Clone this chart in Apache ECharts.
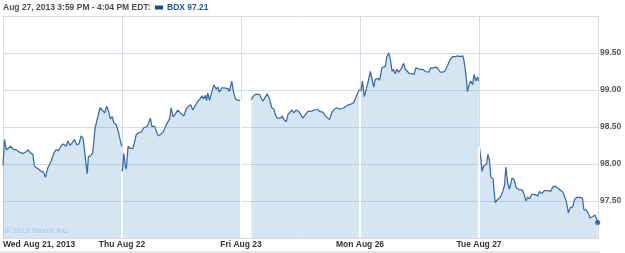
<!DOCTYPE html>
<html>
<head>
<meta charset="utf-8">
<script src="https://cdn.jsdelivr.net/npm/echarts@6/dist/echarts.min.js"></script>
<style>html,body{margin:0;padding:0;background:#fff;}#c{width:625px;height:253px;}</style>
</head>
<body>
<div id="c"></div>
<script>
// Trading-day labels (each day = 390 trading minutes, 9:30-16:00)
const dayLabels = ['Wed Aug 21, 2013', 'Thu Aug 22', 'Fri Aug 23', 'Mon Aug 26', 'Tue Aug 27'];
const headerText = 'Aug 27, 2013 3:59 PM - 4:04 PM EDT:';
const ticker = 'BDX';
const yTicks = [97.5, 98.0, 98.5, 99.0, 99.5];

// [minutes since open, price]
const wed = [[0,97.98],[5,98.33],[11,98.19],[16,98.21],[25,98.24],[33,98.20],[44,98.19],[54,98.16],[65,98.14],[73,98.16],[82,98.19],[90,98.15],[98,98.13],[103,97.97],[109,97.95],[117,97.93],[125,97.90],[133,97.89],[139,97.82],[147,97.95],[158,98.04],[167,98.15],[174,98.19],[182,98.18],[191,98.25],[198,98.27],[207,98.24],[213,98.31],[220,98.25],[227,98.29],[234,98.33],[242,98.26],[249,98.27],[256,98.38],[262,98.35],[267,98.19],[273,97.97],[276,97.87],[280,98.10],[287,98.11],[294,98.15],[302,98.49],[311,98.64],[318,98.76],[327,98.72],[333,98.69],[340,98.78],[346,98.71],[352,98.61],[358,98.64],[363,98.56],[371,98.53],[378,98.44],[385,98.31],[389,98.24]];
const thu = [[1,97.90],[6,98.14],[11,97.97],[14,97.93],[20,98.24],[27,98.21],[36,98.21],[47,98.40],[54,98.42],[63,98.43],[71,98.49],[80,98.50],[85,98.53],[93,98.62],[98,98.51],[107,98.51],[114,98.42],[120,98.38],[129,98.41],[136,98.44],[145,98.53],[156,98.61],[161,98.76],[167,98.64],[174,98.67],[183,98.73],[191,98.69],[196,98.71],[203,98.65],[210,98.74],[218,98.78],[225,98.80],[232,98.73],[240,98.79],[249,98.85],[256,98.88],[262,98.92],[268,98.88],[273,98.93],[277,98.86],[281,98.96],[287,98.86],[292,98.94],[301,99.07],[309,99.01],[314,99.04],[319,98.97],[327,99.03],[336,99.03],[347,99.02],[352,98.98],[360,99.12],[365,98.98],[372,98.88],[379,98.86],[388,98.86]];
const fri = [[34,98.87],[39,98.91],[47,98.94],[53,98.92],[61,98.94],[66,98.89],[72,98.85],[77,98.83],[86,98.95],[94,98.87],[101,98.76],[108,98.74],[112,98.67],[119,98.62],[124,98.64],[130,98.62],[135,98.65],[141,98.60],[148,98.57],[154,98.67],[159,98.65],[167,98.73],[173,98.69],[181,98.73],[189,98.71],[195,98.73],[203,98.62],[208,98.65],[213,98.63],[219,98.71],[228,98.71],[235,98.72],[243,98.73],[252,98.74],[257,98.71],[263,98.69],[268,98.70],[276,98.65],[282,98.67],[290,98.60],[297,98.69],[306,98.74],[315,98.76],[322,98.74],[330,98.75],[337,98.76],[344,98.78],[352,98.80],[361,98.81],[370,98.83],[377,98.91],[385,98.98],[389,99.01]];
const mon = [[3,98.98],[8,99.12],[14,98.91],[19,98.93],[25,99.08],[34,99.25],[39,99.24],[45,99.04],[50,99.14],[58,99.16],[64,99.13],[72,99.30],[77,99.28],[83,99.32],[88,99.45],[94,99.50],[99,99.43],[105,99.25],[110,99.28],[115,99.22],[121,99.28],[126,99.24],[134,99.28],[143,99.36],[148,99.28],[156,99.25],[162,99.22],[170,99.22],[177,99.21],[183,99.30],[188,99.28],[195,99.28],[200,99.26],[206,99.28],[214,99.25],[219,99.26],[225,99.24],[232,99.30],[241,99.30],[250,99.31],[257,99.28],[263,99.24],[271,99.24],[279,99.26],[287,99.33],[295,99.41],[304,99.45],[312,99.45],[319,99.46],[328,99.45],[337,99.46],[341,99.39],[348,99.18],[352,98.98],[358,99.08],[363,99.12],[369,99.07],[374,99.21],[380,99.12],[385,99.18],[389,99.12]];
const tue = [[1,98.24],[6,98.08],[10,97.90],[15,97.97],[21,97.95],[25,98.00],[29,98.13],[34,98.06],[39,97.82],[46,97.80],[53,97.48],[61,97.52],[70,97.55],[78,97.63],[84,97.72],[88,97.96],[94,97.74],[100,97.66],[108,97.81],[115,97.79],[122,97.68],[133,97.65],[141,97.65],[146,97.61],[154,97.50],[159,97.55],[166,97.53],[173,97.59],[181,97.59],[187,97.61],[193,97.57],[198,97.63],[206,97.60],[214,97.64],[220,97.66],[228,97.64],[235,97.63],[242,97.69],[250,97.70],[257,97.68],[266,97.65],[275,97.62],[280,97.60],[286,97.50],[293,97.34],[299,97.41],[307,97.42],[313,97.52],[321,97.55],[331,97.55],[339,97.54],[344,97.38],[351,97.38],[359,97.33],[364,97.27],[373,97.29],[380,97.31],[386,97.25],[389,97.21]];

const days = [wed, thu, fri, mon, tue];
const DAY = 390;
const FONT = '"Liberation Sans", Arial, sans-serif';
const LINE = '#3a6aa2';
const GRID = '#d3dce6';

const lastPt = tue[tue.length - 1];
const lastVal = lastPt[1];

const daySeries = days.map((d, i) => ({
  type: 'line',
  name: ticker,
  data: d.map(p => [i * DAY + p[0], p[1]]),
  symbol: 'none',
  showSymbol: false,
  lineStyle: { color: LINE, width: 1.25 },
  itemStyle: { color: '#1c4c8b' },
  areaStyle: { color: 'rgba(91,155,203,0.26)', opacity: 1, origin: 'start' },
  z: 2
}));

// white day separators below the fill
const sepData = [];
for (let i = 1; i < days.length; i++) {
  const a = days[i - 1][days[i - 1].length - 1][1];
  const b = days[i][0][1];
  sepData.push([i * DAY, Math.min(a, b)]);
}

const chart = echarts.init(document.getElementById('c'), null, { renderer: 'canvas' });
chart.setOption({
  animation: false,
  backgroundColor: '#fff',
  title: [
    { text: headerText, left: 3, top: 3, padding: 0,
      textStyle: { fontFamily: FONT, fontSize: 8.5, fontWeight: 'bold', color: '#4a4f55' } },
    { text: '\u00a9 2013 Yahoo! Inc.', left: 5, top: 227, padding: 0,
      textStyle: { fontFamily: FONT, fontSize: 7.5, fontWeight: 'normal', color: '#b0c4d8' } }
  ],
  legend: {
    left: 155, top: 3, padding: 0, itemGap: 4,
    icon: 'rect', itemWidth: 8, itemHeight: 4,
    selectedMode: false,
    data: [{ name: ticker }],
    itemStyle: { color: '#1c4c8b', borderWidth: 0 },
    lineStyle: { width: 0 },
    formatter: n => n + ' ' + lastVal.toFixed(2),
    textStyle: { fontFamily: FONT, fontSize: 8.5, fontWeight: 'bold', color: '#1f5595', padding: [0, 0, 0, -1] }
  },
  grid: { left: 2, right: 27, top: 16, bottom: 15, containLabel: false },
  xAxis: {
    type: 'value', min: 0, max: DAY * dayLabels.length, interval: DAY,
    axisLine: { show: false }, axisTick: { show: false },
    splitLine: { show: true, lineStyle: { color: GRID, width: 1 } },
    axisLabel: {
      margin: 2, alignMinLabel: 'left', showMaxLabel: false,
      fontFamily: FONT, fontSize: 8.5, fontWeight: 'bold', color: '#333',
      formatter: v => dayLabels[Math.round(v / DAY)] || ''
    }
  },
  yAxis: {
    type: 'value', position: 'right', min: 97, max: 100, interval: 0.5,
    axisLine: { show: true, lineStyle: { color: GRID } },
    axisTick: { show: false },
    splitLine: { show: true, lineStyle: { color: GRID, width: 1 } },
    axisLabel: {
      margin: 2, fontFamily: FONT, fontSize: 8.5, fontWeight: 'bold', color: '#555',
      formatter: v => yTicks.some(t => Math.abs(t - v) < 1e-6) ? v.toFixed(2) : ''
    }
  },
  series: daySeries.concat([
    { type: 'bar', name: 'sep', data: sepData, barWidth: 2, silent: true,
      itemStyle: { color: '#ffffff' }, z: 3, clip: true },
    { type: 'scatter', name: 'last', data: [[(days.length - 1) * DAY + lastPt[0], lastVal]],
      symbol: 'circle', symbolSize: 5, itemStyle: { color: '#1c4c8b' }, z: 5, silent: true }
  ]),
  graphic: [
    { type: 'rect', left: 0, bottom: 0, shape: { width: 600, height: 2 }, style: { fill: '#e6e6e6' }, silent: true }
  ]
});
</script>
</body>
</html>
